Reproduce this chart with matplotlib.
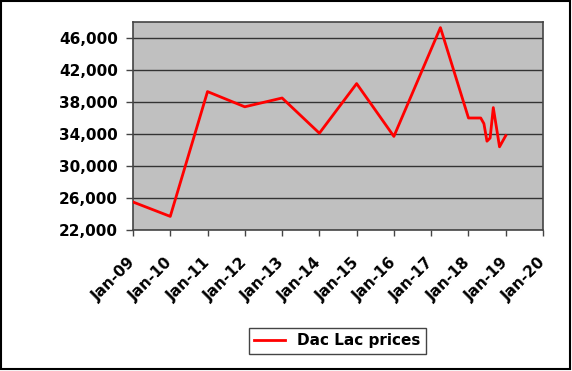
import matplotlib
matplotlib.use("Agg")
import matplotlib.pyplot as plt
import matplotlib.dates as mdates
from matplotlib.patches import Rectangle
from matplotlib.ticker import FuncFormatter
import datetime as dt

# price series
dates = ["2009-01-01", "2010-01-01", "2011-01-01", "2012-01-01", "2013-01-01",
         "2014-01-01", "2015-01-01", "2016-01-01", "2017-04-01", "2018-01-01",
         "2018-05-01", "2018-06-01", "2018-07-01", "2018-08-01", "2018-09-01",
         "2018-11-01", "2019-01-01"]
prices = [25500, 23700, 39300, 37400, 38500,
          34100, 40300, 33700, 47300, 36000,
          36000, 35300, 33100, 33500, 37300,
          32400, 33800]
y_ticks = [22000, 26000, 30000, 34000, 38000, 42000, 46000]
years = list(range(2009, 2021))
series_name = "Dac Lac prices"

x = [dt.datetime.strptime(d, "%Y-%m-%d") for d in dates]

plt.rcParams['font.family'] = ['DejaVu Sans']
plt.rcParams['font.weight'] = 'bold'

fig = plt.figure(figsize=(5.72, 3.71), dpi=100)
ax = fig.add_axes([133 / 572, 1 - 230 / 371, 410 / 572, 208 / 371])
ax.set_facecolor("#c0c0c0")

ax.plot(x, prices, color="#ff0000", lw=2.0, label=series_name, zorder=3)

ax.set_ylim(22000, 48000)
ax.set_yticks(y_ticks)
ax.yaxis.set_major_formatter(FuncFormatter(lambda v, p: f"{int(v):,}"))
ax.set_xlim(dt.datetime(2009, 1, 1), dt.datetime(2020, 1, 1))
ax.set_xticks([dt.datetime(y, 1, 1) for y in years])
ax.xaxis.set_major_formatter(mdates.DateFormatter("%b-%y"))

ax.grid(axis="y", color="#333333", lw=1.0)
ax.set_axisbelow(True)
for s in ax.spines.values():
    s.set_color("#444444")
    s.set_linewidth(1.2)

ax.tick_params(axis="y", length=5, width=1, color="#444444", pad=6, labelsize=11)
ax.tick_params(axis="x", length=4.5, width=1, color="#444444", pad=17, labelsize=11)
for lbl in ax.get_yticklabels():
    lbl.set_fontweight("bold")
for lbl in ax.get_xticklabels():
    lbl.set_rotation(45)
    lbl.set_ha("right")
    lbl.set_va("center")
    lbl.set_rotation_mode("anchor")
    lbl.set_fontweight("bold")

leg = fig.legend(loc="center", bbox_to_anchor=(337.5 / 572, 1 - 341 / 371),
                 fancybox=False, edgecolor="#444444", framealpha=1,
                 handlelength=2.0, borderpad=0.35,
                 prop={"size": 11, "weight": "bold"})
leg.get_frame().set_linewidth(1.0)

# outer frame round the whole chart
fig.patches.append(Rectangle((0.7 / 572, 1 - 368.5 / 371), 569.5 / 572, 367.8 / 371,
                             transform=fig.transFigure, fill=False,
                             edgecolor="black", lw=1.5))

fig.savefig("out.png", dpi=100)
